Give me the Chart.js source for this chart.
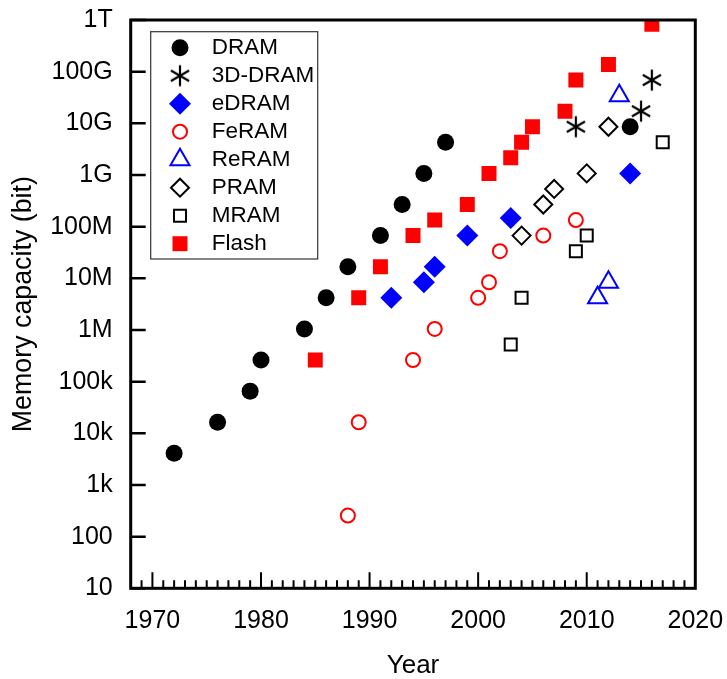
<!DOCTYPE html>
<html>
<head>
<meta charset="utf-8">
<script src="https://cdn.jsdelivr.net/npm/chart.js@4/dist/chart.umd.min.js"></script>
<style>
  body { margin: 0; background: #fff; }
  #wrap { width: 727px; height: 679px; }
</style>
</head>
<body>
<div id="wrap"><canvas id="memChart" width="727" height="679"></canvas></div>
<script>
const K = 1024, M = K * K, G = M * K;

// year of announcement / capacity in bits
const dramYears = [1972, 1976, 1979, 1980, 1984, 1986, 1988, 1991, 1993, 1995, 1997, 2014];
const dramBits = [4 * K, 16 * K, 64 * K, 256 * K, 1 * M, 4 * M, 16 * M, 64 * M, 256 * M, 1 * G, 4 * G, 8 * G];

const dram3dYears = [2009, 2015, 2016];
const dram3dBits = [8 * G, 16 * G, 64 * G];

const edramYears = [1992, 1995, 1996, 1999, 2003, 2014];
const edramBits = [4 * M, 8 * M, 16 * M, 64 * M, 140 * M, 1 * G];

const feramYears = [1988, 1989, 1994, 1996, 2000, 2001, 2002, 2006, 2009];
const feramBits = [256, 16 * K, 256 * K, 1 * M, 4 * M, 8 * M, 32 * M, 64 * M, 128 * M];

const reramYears = [2011, 2012, 2013];
const reramBits = [4 * M, 8 * M, 32 * G];

const pramYears = [2004, 2006, 2007, 2010, 2012];
const pramBits = [64 * M, 256 * M, 512 * M, 1 * G, 8 * G];

const mramYears = [2003, 2004, 2009, 2010, 2017];
const mramBits = [512 * K, 4 * M, 32 * M, 64 * M, 4 * G];

const flashYears = [1985, 1989, 1991, 1994, 1996, 1999, 2001, 2003, 2004, 2005, 2008, 2009, 2012, 2016];
const flashBits = [256 * K, 4 * M, 16 * M, 64 * M, 128 * M, 256 * M, 1 * G, 2 * G, 4 * G, 8 * G, 16 * G, 64 * G, 128 * G, 768 * G];

const yTickValues = [1e1, 1e2, 1e3, 1e4, 1e5, 1e6, 1e7, 1e8, 1e9, 1e10, 1e11, 1e12];
const yTickLabels = ['10', '100', '1k', '10k', '100k', '1M', '10M', '100M', '1G', '10G', '100G', '1T'];
const xTickValues = [1970, 1980, 1990, 2000, 2010, 2020];

Chart.defaults.font.family = "'Liberation Sans', Arial, sans-serif";
Chart.defaults.color = '#000';

// asterisk marker (vertical + two diagonals)
function makeAsterisk() {
  const c = document.createElement('canvas');
  c.width = 24; c.height = 24;
  const g = c.getContext('2d');
  g.strokeStyle = '#000';
  g.lineWidth = 2.2;
  g.beginPath();
  for (let a = 0; a < 3; a++) {
    const t = Math.PI / 2 + a * Math.PI / 3;
    g.moveTo(12 + 10.5 * Math.cos(t), 12 - 10.5 * Math.sin(t));
    g.lineTo(12 - 10.5 * Math.cos(t), 12 + 10.5 * Math.sin(t));
  }
  g.stroke();
  return c;
}
const asterisk = makeAsterisk();

function series(label, xs, ys, style) {
  return Object.assign({
    label: label,
    data: xs.map((x, i) => ({ x: x, y: ys[i] })),
    showLine: false,
    clip: 0
  }, style);
}

const none = 'rgba(0,0,0,0)';
const datasets = [
  series('DRAM', dramYears, dramBits, { pointStyle: 'circle', pointRadius: 8.5, pointBackgroundColor: '#000', pointBorderColor: '#000', pointBorderWidth: 0 }),
  series('3D-DRAM', dram3dYears, dram3dBits, { pointStyle: asterisk, pointRadius: 10, pointBackgroundColor: '#000', pointBorderColor: '#000', pointBorderWidth: 0 }),
  series('eDRAM', edramYears, edramBits, { pointStyle: 'rectRot', pointRadius: 11, pointBackgroundColor: '#0000ff', pointBorderColor: '#0000ff', pointBorderWidth: 0 }),
  series('FeRAM', feramYears, feramBits, { pointStyle: 'circle', pointRadius: 7, pointBackgroundColor: none, pointBorderColor: '#ff0000', pointBorderWidth: 2 }),
  series('ReRAM', reramYears, reramBits, { pointStyle: 'triangle', pointRadius: 11, pointBackgroundColor: none, pointBorderColor: '#0000ff', pointBorderWidth: 2 }),
  series('PRAM', pramYears, pramBits, { pointStyle: 'rectRot', pointRadius: 9, pointBackgroundColor: none, pointBorderColor: '#000', pointBorderWidth: 2 }),
  series('MRAM', mramYears, mramBits, { pointStyle: 'rect', pointRadius: 8.5, pointBackgroundColor: none, pointBorderColor: '#000', pointBorderWidth: 2 }),
  series('Flash', flashYears, flashBits, { pointStyle: 'rect', pointRadius: 10.6, pointBackgroundColor: '#ff0000', pointBorderColor: '#ff0000', pointBorderWidth: 0 })
];
datasets.forEach(d => { d.pointHoverRadius = d.pointRadius; });

function noPad(s) {
  s.paddingTop = 0; s.paddingBottom = 0; s.paddingLeft = 0; s.paddingRight = 0;
}

// frame + inward tick marks
const frameTicks = {
  id: 'frameTicks',
  afterDatasetsDraw(chart) {
    const { ctx, chartArea: a, scales: { x, y } } = chart;
    ctx.save();
    ctx.strokeStyle = '#000';
    ctx.lineWidth = 2;
    ctx.beginPath();
    for (let yr = 1969; yr < 2020; yr++) {
      const px = x.getPixelForValue(yr);
      const len = yr % 10 === 0 ? 16 : 8;
      ctx.moveTo(px, a.bottom);
      ctx.lineTo(px, a.bottom - len);
    }
    ctx.stroke();
    ctx.lineWidth = 2.5;
    ctx.beginPath();
    yTickValues.forEach(v => {
      const py = y.getPixelForValue(v);
      ctx.moveTo(a.left, py);
      ctx.lineTo(a.left + 15, py);
    });
    ctx.stroke();
    ctx.lineWidth = 3;
    ctx.strokeRect(a.left, a.top, a.right - a.left, a.bottom - a.top);
    ctx.restore();
  }
};

// boxed legend in the upper left of the plot
const boxLegend = {
  id: 'boxLegend',
  afterDraw(chart) {
    const { ctx, chartArea: a } = chart;
    const left = a.left + 20, top = a.top + 11.7;
    ctx.save();
    ctx.fillStyle = '#fff';
    ctx.fillRect(left, top, 167, 227.3);
    ctx.strokeStyle = '#333';
    ctx.lineWidth = 1.2;
    ctx.strokeRect(left, top, 167, 227.3);
    chart.data.datasets.forEach((d, i) => {
      const cy = top + 16 + 28 * i;
      ctx.fillStyle = d.pointBackgroundColor;
      ctx.strokeStyle = d.pointBorderColor;
      ctx.lineWidth = d.pointBorderWidth;
      Chart.helpers.drawPoint(ctx, { pointStyle: d.pointStyle, radius: d.pointRadius, borderWidth: d.pointBorderWidth, rotation: 0 }, left + 29.3, cy);
      ctx.fillStyle = '#000';
      ctx.font = "22.5px 'Liberation Sans', Arial, sans-serif";
      ctx.textAlign = 'left';
      ctx.textBaseline = 'middle';
      ctx.fillText(d.label, left + 61, cy);
    });
    ctx.restore();
  }
};

new Chart(document.getElementById('memChart'), {
  type: 'scatter',
  data: { datasets: datasets },
  options: {
    responsive: false,
    animation: false,
    events: [],
    layout: { padding: { top: 20, right: 31.7, left: 0, bottom: 0 } },
    plugins: { legend: { display: false }, tooltip: { enabled: false } },
    scales: {
      x: {
        type: 'linear',
        min: 1968,
        max: 2020,
        afterBuildTicks: s => { s.ticks = xTickValues.map(v => ({ value: v })); },
        afterFit: s => { s.height = 90.7; noPad(s); },
        grid: { display: false, drawTicks: false },
        border: { display: false },
        ticks: { autoSkip: false, maxRotation: 0, padding: 18, font: { size: 25 }, color: '#000', callback: v => String(v) },
        title: { display: true, text: 'Year', font: { size: 26, lineHeight: 1 }, padding: { top: 0, bottom: 0 }, color: '#000' }
      },
      y: {
        type: 'logarithmic',
        min: 10,
        max: 1e12,
        afterBuildTicks: s => { s.ticks = yTickValues.map(v => ({ value: v })); },
        afterFit: s => { s.width = 130.7; noPad(s); },
        grid: { display: false, drawTicks: false },
        border: { display: false },
        ticks: { autoSkip: false, padding: 18, font: { size: 25 }, color: '#000', callback: (v, i) => yTickLabels[i] },
        title: { display: true, text: 'Memory capacity (bit)', font: { size: 26.8, lineHeight: 1 }, padding: { top: 10, bottom: 0 }, color: '#000' }
      }
    }
  },
  plugins: [frameTicks, boxLegend]
});
</script>
</body>
</html>
